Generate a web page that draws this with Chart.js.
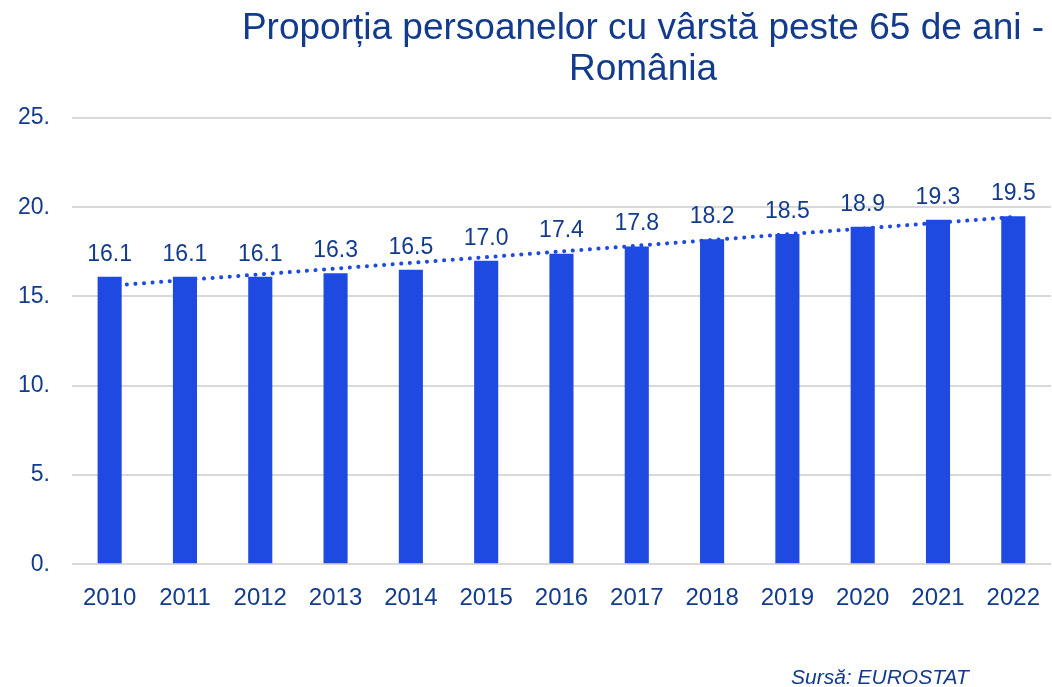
<!DOCTYPE html>
<html>
<head>
<meta charset="utf-8">
<script src="https://cdn.jsdelivr.net/npm/chart.js@4"></script>
<style>
  html, body { margin: 0; padding: 0; background: #fff; }
  #wrap { width: 1052px; height: 687px; position: relative; }
</style>
</head>
<body>
<div id="wrap"><canvas id="ageChart" width="1052" height="687"></canvas></div>
<script>
const years = ['2010', '2011', '2012', '2013', '2014', '2015', '2016', '2017', '2018', '2019', '2020', '2021', '2022'];
const share65 = [16.1, 16.1, 16.1, 16.3, 16.5, 17.0, 17.4, 17.8, 18.2, 18.5, 18.9, 19.3, 19.5];
// trendline end points
const trend = [15.6, null, null, null, null, null, null, null, null, null, null, null, 19.45];
const yTicks = [0, 5, 10, 15, 20, 25];

const textBlue = '#123b8d';
const barBlue = '#1f4ae2';
const font = 'Liberation Sans, Arial, sans-serif';

// value labels above bars + title + source line
const decorations = {
    id: 'decorations',
    afterDatasetsDraw(chart) {
        const ctx = chart.ctx;
        const meta = chart.getDatasetMeta(0);
        ctx.save();
        ctx.fillStyle = textBlue;
        ctx.font = '23px ' + font;
        ctx.textAlign = 'center';
        ctx.textBaseline = 'bottom';
        meta.data.forEach((bar, i) => {
            ctx.fillText(share65[i].toFixed(1), bar.x, bar.y - 11);
        });
        ctx.restore();
    },
    afterDraw(chart) {
        const ctx = chart.ctx;
        ctx.save();
        ctx.fillStyle = textBlue;
        ctx.textAlign = 'center';
        ctx.textBaseline = 'middle';
        ctx.font = '37px ' + font;
        ctx.fillText('Proporția persoanelor cu vârstă peste 65 de ani -', 643, 29);
        ctx.fillText('România', 643, 70);
        ctx.font = 'italic 21px ' + font;
        ctx.textAlign = 'left';
        ctx.fillText('Sursă: EUROSTAT', 791, 678);
        ctx.restore();
    }
};

new Chart(document.getElementById('ageChart'), {
    data: {
        labels: years,
        datasets: [{
            type: 'bar',
            data: share65,
            backgroundColor: barBlue,
            barPercentage: 0.32,
            categoryPercentage: 1,
            order: 0
        }, {
            type: 'line',
            data: trend,
            spanGaps: true,
            borderColor: barBlue,
            borderWidth: 4,
            borderDash: [0.1, 8.5],
            borderCapStyle: 'round',
            pointRadius: 0,
            fill: false,
            order: 1
        }]
    },
    options: {
        responsive: false,
        animation: false,
        layout: { padding: { top: 118, right: 0, bottom: 62, left: 0 } },
        plugins: {
            legend: { display: false },
            tooltip: { enabled: false }
        },
        scales: {
            x: {
                grid: { display: false },
                border: { display: false },
                ticks: { color: textBlue, font: { family: font, size: 24 }, padding: 12 }
            },
            y: {
                min: 0,
                max: 25,
                afterFit: (scale) => { scale.width = 72; },
                afterBuildTicks: (scale) => { scale.ticks = yTicks.map(v => ({ value: v })); },
                grid: { color: '#d9d9d9', lineWidth: 2, drawTicks: false },
                border: { display: false },
                ticks: {
                    color: textBlue,
                    font: { family: font, size: 23 },
                    padding: 22,
                    callback: (v) => v + '.'
                }
            }
        }
    },
    plugins: [decorations]
});
</script>
</body>
</html>
